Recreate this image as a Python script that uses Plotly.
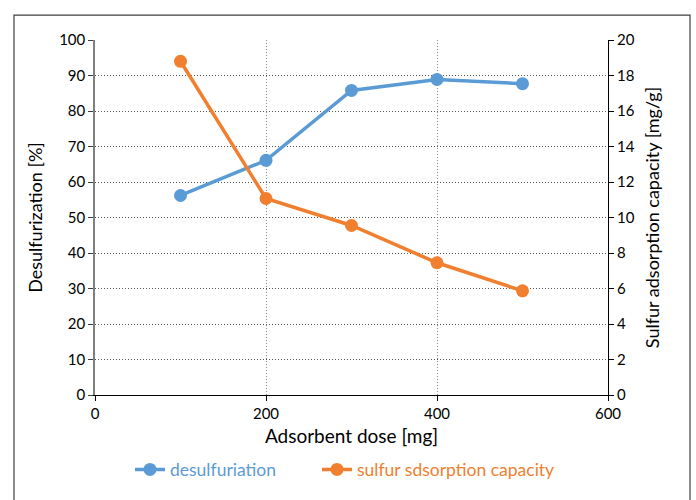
import plotly.graph_objects as go

dose = [100, 200, 300, 400, 500]
desulfurization = [56.2, 66.1, 85.8, 88.9, 87.7]
capacity = [18.8, 11.07, 9.55, 7.45, 5.87]

blue = "#5B9BD5"
orange = "#F0802F"
font_family = "Lato, 'Open Sans', sans-serif"

fig = go.Figure()
fig.add_trace(go.Scatter(
    x=dose, y=desulfurization, mode="lines+markers",
    name=f"<span style='color:{blue}'>desulfuriation</span>",
    line=dict(color=blue, width=3.5),
    marker=dict(color=blue, size=13),
    legend="legend",
))
fig.add_trace(go.Scatter(
    x=dose, y=capacity, mode="lines+markers", yaxis="y2",
    name=f"<span style='color:{orange}'>sulfur sdsorption capacity</span>",
    line=dict(color=orange, width=3.5),
    marker=dict(color=orange, size=13),
    legend="legend2",
))

L, R, T, B = 95, 88, 40, 103
W, H = 696, 500
pw, ph = W - L - R, H - T - B

def px_x(p):
    return (p - L) / pw

def px_y(p):
    return (H - B - p) / ph

fig.update_layout(
    width=W, height=H,
    margin=dict(l=L, r=R, t=T, b=B, pad=0),
    paper_bgcolor="white", plot_bgcolor="white",
    font=dict(family=font_family, size=15, color="#000000"),
    showlegend=True,
    legend=dict(orientation="h", x=px_x(130), xanchor="left", y=px_y(472), yanchor="middle",
                font=dict(size=17.5), bgcolor="rgba(0,0,0,0)"),
    legend2=dict(orientation="h", x=px_x(317), xanchor="left", y=px_y(472), yanchor="middle",
                 font=dict(size=17.5), bgcolor="rgba(0,0,0,0)"),
    xaxis=dict(
        range=[0, 600], dtick=200, tick0=0,
        showline=True, linecolor="#000000", linewidth=1,
        ticks="outside", ticklen=5, tickcolor="#000000",
        showgrid=True, gridcolor="#8c8c8c", griddash="1px,2px", gridwidth=1,
        zeroline=False, tickfont=dict(size=15),
        title=dict(text="Adsorbent dose [mg]", font=dict(size=19), standoff=8),
    ),
    yaxis=dict(
        range=[0, 100], dtick=10,
        showline=True, linecolor="#7f7f7f", linewidth=1.5,
        ticks="outside", ticklen=5, tickcolor="#404040",
        showgrid=True, gridcolor="#555555", griddash="1px,2px", gridwidth=1,
        zeroline=False, tickfont=dict(size=15),
        title=dict(text="Desulfurization [%]", font=dict(size=18), standoff=12),
    ),
    yaxis2=dict(
        range=[0, 20], dtick=2, overlaying="y", side="right",
        showline=True, linecolor="#000000", linewidth=1,
        ticks="outside", ticklen=5, tickcolor="#000000",
        showgrid=False, zeroline=False, tickfont=dict(size=15),
        title=dict(text="Sulfur adsorption capacity [mg/g]", font=dict(size=18), standoff=12),
    ),
)

fig.add_shape(type="rect", xref="paper", yref="paper",
              x0=px_x(14), x1=px_x(690), y0=px_y(520), y1=px_y(15),
              line=dict(color="#404040", width=1.2), fillcolor="rgba(0,0,0,0)",
              layer="below")

fig.write_html("out.html")
